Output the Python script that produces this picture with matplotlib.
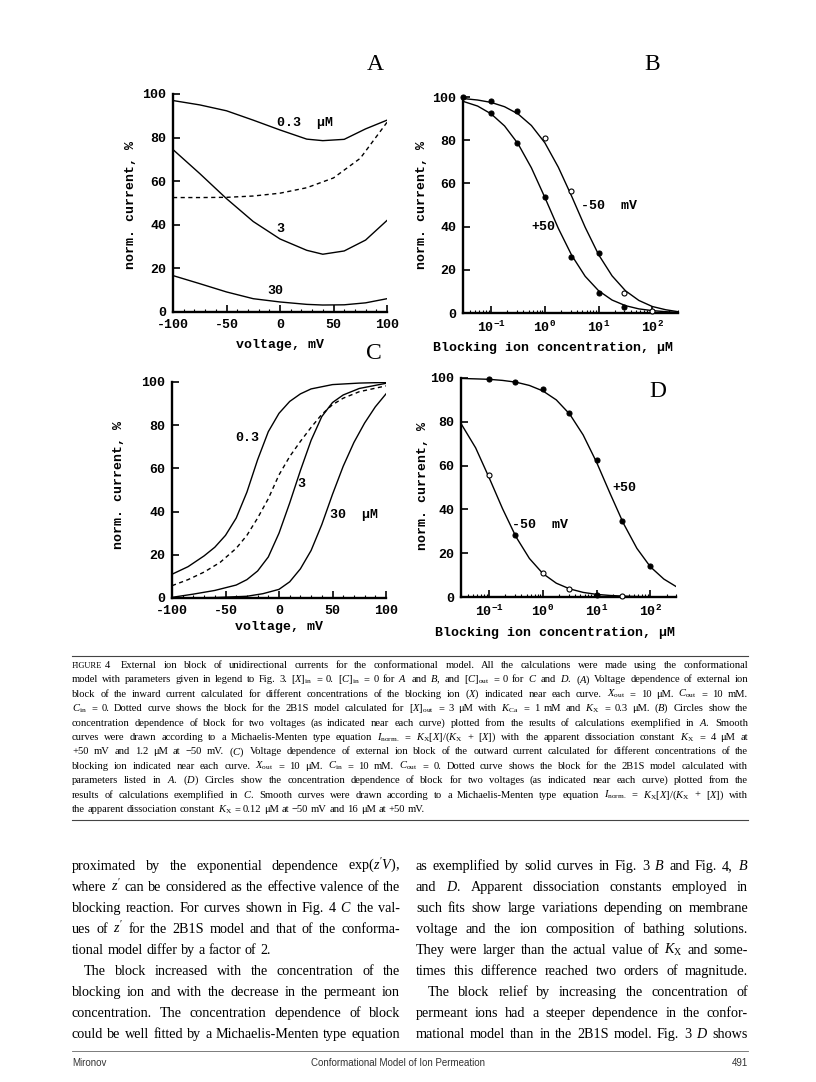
import matplotlib
matplotlib.use('Agg')
import matplotlib.pyplot as plt
import matplotlib.ticker as ticker
from matplotlib.lines import Line2D

W, H = 816, 1082

# ---- A: inward current vs voltage, blocker 0.3 / 3 / 30 uM, dashed = 2B1S model
a_volt = [-100, -75, -50, -25, 0, 25, 40, 60, 80, 100]
a_03 = [97, 95, 92.3, 88, 83.5, 79.3, 78.6, 79.2, 84, 88]
a_3 = [74.5, 63.5, 52, 41.5, 33.5, 28.3, 26.5, 28, 33, 42]
a_30 = [16.7, 13, 9.2, 6.1, 4.6, 3.5, 3.2, 3.3, 4.2, 6.1]
a_dash_volt = [-100, -75, -50, -25, 0, 25, 50, 75, 100]
a_dash = [52.5, 52.5, 52.6, 53.2, 54.5, 57, 61.5, 70.5, 87]

# ---- C: outward current vs voltage
c_03_volt = [-100, -85, -70, -60, -50, -40, -30, -20, -10, 0, 10, 20, 30, 50, 75, 100]
c_03 = [11, 14.5, 19.5, 23.5, 29, 37, 49, 64, 77, 85.5, 91, 94.5, 96.8, 98.8, 99.5, 99.8]
c_3_volt = [-100, -80, -60, -40, -30, -20, -10, 0, 10, 20, 30, 40, 50, 60, 75, 100]
c_3 = [0.3, 1.8, 3.5, 6, 8.5, 12.5, 19, 30, 44, 59, 73, 84, 90.5, 94, 97, 99.4]
c_30_volt = [-100, -60, -30, -15, 0, 10, 20, 30, 40, 50, 60, 70, 80, 90, 100]
c_30 = [0, 0.2, 0.8, 2, 4, 7.5, 13.5, 22, 34, 48, 61, 72, 81, 88.5, 94.5]
c_dash_volt = [-100, -85, -70, -55, -40, -30, -20, -10, 0, 10, 20, 30, 40, 50, 60, 75, 100]
c_dash = [5.7, 8.5, 12, 16.5, 23, 29, 37, 46, 57, 65.5, 72.5, 79, 85, 89.5, 92.5, 95.5, 98.2]

# ---- B, D: concentration dependence (uM), smooth fits read at quarter decades
fit_conc = [0.03, 0.0562, 0.1, 0.178, 0.316, 0.562, 1, 1.78, 3.16, 5.62, 10, 17.8, 31.6, 56.2, 100, 178, 300]
b_fit_m50 = [99.3, 98.6, 97.5, 95.5, 92.2, 86.8, 78.8, 67.5, 54, 39.7, 27, 17.2, 10.3, 5.8, 3, 1.5, 0.6]
b_fit_p50 = [98, 95.8, 92.2, 86.6, 78.4, 67.2, 53.5, 39.2, 26.7, 17, 10.3, 6, 3.4, 1.9, 1.1, 0.6, 0.3]
d_fit_m50 = [79.2, 68.1, 54.5, 40.3, 27.5, 17.6, 10.7, 6.3, 3.7, 2.1, 1.2, 0.7, 0.4, 0.2, 0.1, 0.1, 0.05]
d_fit_p50 = [99.8, 99.6, 99.4, 98.9, 98.1, 96.6, 94.1, 90, 83.5, 74, 61.5, 47.3, 33.6, 22.2, 13.8, 8.2, 4.8]

b_m50_conc = [0.03, 0.1, 0.3, 1, 3, 10, 30, 100]
b_m50 = [99.8, 98.3, 93.5, 80.9, 56.5, 27.9, 9.4, 0.8]
b_m50_open = [False, False, False, True, True, False, True, True]
b_p50_conc = [0.1, 0.3, 1, 3, 10, 30]
b_p50 = [92.4, 78.5, 53.5, 26.1, 9.1, 2.9]

d_p50_conc = [0.1, 0.3, 1, 3, 10, 30, 100]
d_p50 = [99.7, 98.2, 94.8, 84.1, 62.7, 34.7, 14.0]
d_m50_conc = [0.1, 0.3, 1, 3, 10, 30]
d_m50 = [55.6, 28.4, 11, 3.8, 1.1, 0.6]
d_m50_open = [True, False, True, True, False, True]

caption_first = "External ion block of unidirectional currents for the conformational model. All the calculations were made using the conformational"
caption_lines = [
    r"model with parameters given in legend to Fig. 3. $[X]_\mathrm{in}$ = 0. $[C]_\mathrm{in}$ = 0 for $A$ and $B$, and $[C]_\mathrm{out}$ = 0 for $C$ and $D$. ($A$) Voltage dependence of external ion",
    r"block of the inward current calculated for different concentrations of the blocking ion ($X$) indicated near each curve. $X_\mathrm{out}$ = 10 μM. $C_\mathrm{out}$ = 10 mM.",
    r"$C_\mathrm{in}$ = 0. Dotted curve shows the block for the 2B1S model calculated for $[X]_\mathrm{out}$ = 3 μM with $K_\mathrm{Ca}$ = 1 mM and $K_\mathrm{X}$ = 0.3 μM. ($B$) Circles show the",
    r"concentration dependence of block for two voltages (as indicated near each curve) plotted from the results of calculations exemplified in $A$. Smooth",
    r"curves were drawn according to a Michaelis-Menten type equation $I_\mathrm{norm.}$ = $K_\mathrm{X}[X]/(K_\mathrm{X}$ + $[X])$ with the apparent dissociation constant $K_\mathrm{X}$ = 4 μM at",
    r"+50 mV and 1.2 μM at −50 mV. ($C$) Voltage dependence of external ion block of the outward current calculated for different concentrations of the",
    r"blocking ion indicated near each curve. $X_\mathrm{out}$ = 10 μM. $C_\mathrm{in}$ = 10 mM. $C_\mathrm{out}$ = 0. Dotted curve shows the block for the 2B1S model calculated with",
    r"parameters listed in $A$. ($D$) Circles show the concentration dependence of block for two voltages (as indicated near each curve) plotted from the",
    r"results of calculations exemplified in $C$. Smooth curves were drawn according to a Michaelis-Menten type equation $I_\mathrm{norm.}$ = $K_\mathrm{X}[X]/(K_\mathrm{X}$ + $[X])$ with",
    r"the apparent dissociation constant $K_\mathrm{X}$ = 0.12 μM at −50 mV and 16 μM at +50 mV.",
]

left_col = [
    (r"proximated by the exponential dependence exp($z'V$),", 0, True),
    (r"where $z'$ can be considered as the effective valence of the", 0, True),
    (r"blocking reaction. For curves shown in Fig. 4 $C$ the val-", 0, True),
    (r"ues of $z'$ for the 2B1S model and that of the conforma-", 0, True),
    (r"tional model differ by a factor of 2.", 0, False),
    (r"The block increased with the concentration of the", 12, True),
    (r"blocking ion and with the decrease in the permeant ion", 0, True),
    (r"concentration. The concentration dependence of block", 0, True),
    (r"could be well fitted by a Michaelis-Menten type equation", 0, True),
]
right_col = [
    (r"as exemplified by solid curves in Fig. 3 $B$ and Fig. 4, $B$", 0, True),
    (r"and $D$. Apparent dissociation constants employed in", 0, True),
    (r"such fits show large variations depending on membrane", 0, True),
    (r"voltage and the ion composition of bathing solutions.", 0, True),
    (r"They were larger than the actual value of $K_\mathrm{X}$ and some-", 0, True),
    (r"times this difference reached two orders of magnitude.", 0, True),
    (r"The block relief by increasing the concentration of", 12, True),
    (r"permeant ions had a steeper dependence in the confor-", 0, True),
    (r"mational model than in the 2B1S model. Fig. 3 $D$ shows", 0, True),
]

plt.rcParams['font.family'] = ['Liberation Mono', 'DejaVu Sans Mono']
plt.rcParams['font.weight'] = 'bold'
plt.rcParams['axes.unicode_minus'] = False
plt.rcParams['mathtext.fontset'] = 'custom'
plt.rcParams['mathtext.rm'] = 'Liberation Serif:weight=normal'
plt.rcParams['mathtext.it'] = 'Liberation Serif:slant=italic:weight=normal'
plt.rcParams['mathtext.bf'] = 'Liberation Serif:weight=bold'

fig = plt.figure(figsize=(W / 100, H / 100), dpi=100)
fig.patch.set_facecolor('white')


def px(x, y):
    return x / W, 1 - y / H


def box(l, t, r, b):
    return fig.add_axes([l / W, 1 - b / H, (r - l) / W, (b - t) / H])


def style(ax, log=False):
    for s in ['top', 'right']:
        ax.spines[s].set_visible(False)
    for s in ['left', 'bottom']:
        ax.spines[s].set_linewidth(1.7)
    ax.set_ylim(0, 100)
    ax.yaxis.set_major_locator(ticker.MultipleLocator(20))
    if log:
        ax.set_xscale('log')
        ax.set_xlim(0.03, 300)
        ax.xaxis.set_major_locator(ticker.LogLocator(base=10, numticks=12))
        ax.xaxis.set_minor_locator(ticker.LogLocator(base=10, subs=range(2, 10), numticks=12))
        ax.xaxis.set_minor_formatter(ticker.NullFormatter())
    else:
        ax.set_xlim(-100, 100)
        ax.xaxis.set_major_locator(ticker.MultipleLocator(50))
        ax.xaxis.set_minor_locator(ticker.MultipleLocator(10))
    ax.tick_params(which='both', direction='in', labelsize=9.5, pad=5)
    ax.tick_params(which='major', length=5, width=1.2)
    ax.tick_params(which='minor', length=2.5, width=0.8)


lw = 1.0
k = 'black'

# 四个面板
axA = box(173, 94, 387, 312)
axB = box(463, 97, 678, 313)
axC = box(172, 382, 386, 598)
axD = box(461, 378, 676, 597)

# A
style(axA)
axA.plot(a_volt, a_03, color=k, lw=lw)
axA.plot(a_volt, a_3, color=k, lw=lw)
axA.plot(a_volt, a_30, color=k, lw=lw)
axA.plot(a_dash_volt, a_dash, color=k, lw=lw, ls=(0, (3, 2.5)))
axA.text(-3, 86.8, "0.3  μM", fontsize=9.5, ha='left', va='center')
axA.text(0, 38, "3", fontsize=9.5, ha='center', va='center')
axA.text(-4.7, 9.6, "30", fontsize=9.5, ha='center', va='center')

# C
style(axC)
axC.plot(c_03_volt, c_03, color=k, lw=lw)
axC.plot(c_3_volt, c_3, color=k, lw=lw)
axC.plot(c_30_volt, c_30, color=k, lw=lw)
axC.plot(c_dash_volt, c_dash, color=k, lw=lw, ls=(0, (3, 2.5)))
axC.text(-18, 74, "0.3", fontsize=9.5, ha='right', va='center')
axC.text(21, 53, "3", fontsize=9.5, ha='center', va='center')
axC.text(47.5, 38.4, "30  μM", fontsize=9.5, ha='left', va='center')


def dots(ax, xs, ys, opens=None):
    for i in range(len(xs)):
        op = opens[i] if opens else False
        ax.plot(xs[i], ys[i], 'o', ms=3.6, mec=k, mew=0.8,
                mfc='white' if op else k, zorder=5, clip_on=False)


# B
style(axB, log=True)
axB.plot(fit_conc, b_fit_m50, color=k, lw=lw)
axB.plot(fit_conc, b_fit_p50, color=k, lw=lw)
dots(axB, b_m50_conc, b_m50, b_m50_open)
dots(axB, b_p50_conc, b_p50)
axB.text(4.8, 49.5, "-50  mV", fontsize=9.5, ha='left', va='center')
axB.text(0.56, 40, "+50", fontsize=9.5, ha='left', va='center')

# D
style(axD, log=True)
axD.plot(fit_conc, d_fit_m50, color=k, lw=lw)
axD.plot(fit_conc, d_fit_p50, color=k, lw=lw)
dots(axD, d_p50_conc, d_p50)
dots(axD, d_m50_conc, d_m50, d_m50_open)
axD.text(20, 49.6, "+50", fontsize=9.5, ha='left', va='center')
axD.text(0.27, 33, "-50  mV", fontsize=9.5, ha='left', va='center')

# 轴标签
for (x, y) in [(131, 205), (422, 205), (119, 485), (423, 486)]:
    fig.text(*px(x, y), "norm. current, %", rotation=90, fontsize=9.5, ha='center', va='center')
fig.text(*px(280, 345), "voltage, mV", fontsize=9.5, ha='center', va='center')
fig.text(*px(279, 627), "voltage, mV", fontsize=9.5, ha='center', va='center')
fig.text(*px(553, 348), "Blocking ion concentration, μM", fontsize=9.5, ha='center', va='center')
fig.text(*px(555, 633), "Blocking ion concentration, μM", fontsize=9.5, ha='center', va='center')

# 面板字母
for (x, y, s) in [(375, 65, "A"), (652, 65, "B"), (374, 354, "C"), (658, 392, "D")]:
    fig.text(*px(x, y), s, family='Liberation Serif', weight='normal', fontsize=17, ha='center', va='center')

# ---- 文字排版 (两端对齐)
rend = fig.canvas.get_renderer()


def put_line(x0, x1, y, line, size, justify=True, family='Liberation Serif'):
    words = [w for w in line.split(' ') if w]
    arts = [fig.text(*px(x0, y), w, fontsize=size, family=family, weight='normal', va='baseline')
            for w in words]
    widths = [a.get_window_extent(rend).width for a in arts]
    gap = size * 100 / 72 * 0.25
    if justify and len(words) > 1:
        gap = max((x1 - x0 - sum(widths)) / (len(words) - 1), 1.5)
    x = x0
    for a, wd in zip(arts, widths):
        a.set_x(x / W)
        x += wd + gap


def rule(x0, x1, y, lw_=0.8, c='#444444'):
    fig.add_artist(Line2D([x0 / W, x1 / W], [1 - y / H] * 2, lw=lw_, color=c, transform=fig.transFigure))


cap_size = 7.6
rule(72, 748, 656)
fig.text(*px(72, 668), "FIGURE", fontsize=6, family='Liberation Serif', weight='normal', va='baseline')
fig.text(*px(105, 668), "4", fontsize=7.6, family='Liberation Serif', weight='normal', va='baseline')
put_line(121, 748, 668, caption_first, cap_size)
for i, line in enumerate(caption_lines):
    put_line(72, 748, 668 + 14.4 * (i + 1), line, cap_size, justify=(i < len(caption_lines) - 1))
rule(72, 748, 820)

body_size = 10.2
for i, (line, ind, just) in enumerate(left_col):
    put_line(72 + ind, 400, 870 + 21 * i, line, body_size, justify=just)
for i, (line, ind, just) in enumerate(right_col):
    put_line(416 + ind, 748, 870 + 21 * i, line, body_size, justify=just)

# 页脚
rule(72, 748, 1051, 0.6, '#666666')
fig.text(*px(72, 1066), "Mironov", fontsize=7, family='Liberation Sans', weight='normal', va='baseline', color='#333333')
fig.text(*px(398, 1066), "Conformational Model of Ion Permeation", fontsize=7, family='Liberation Sans',
         weight='normal', va='baseline', ha='center', color='#333333')
fig.text(*px(748, 1066), "491", fontsize=7, family='Liberation Sans', weight='normal', va='baseline',
         ha='right', color='#333333')

fig.savefig('out.png', dpi=100, facecolor='white')
